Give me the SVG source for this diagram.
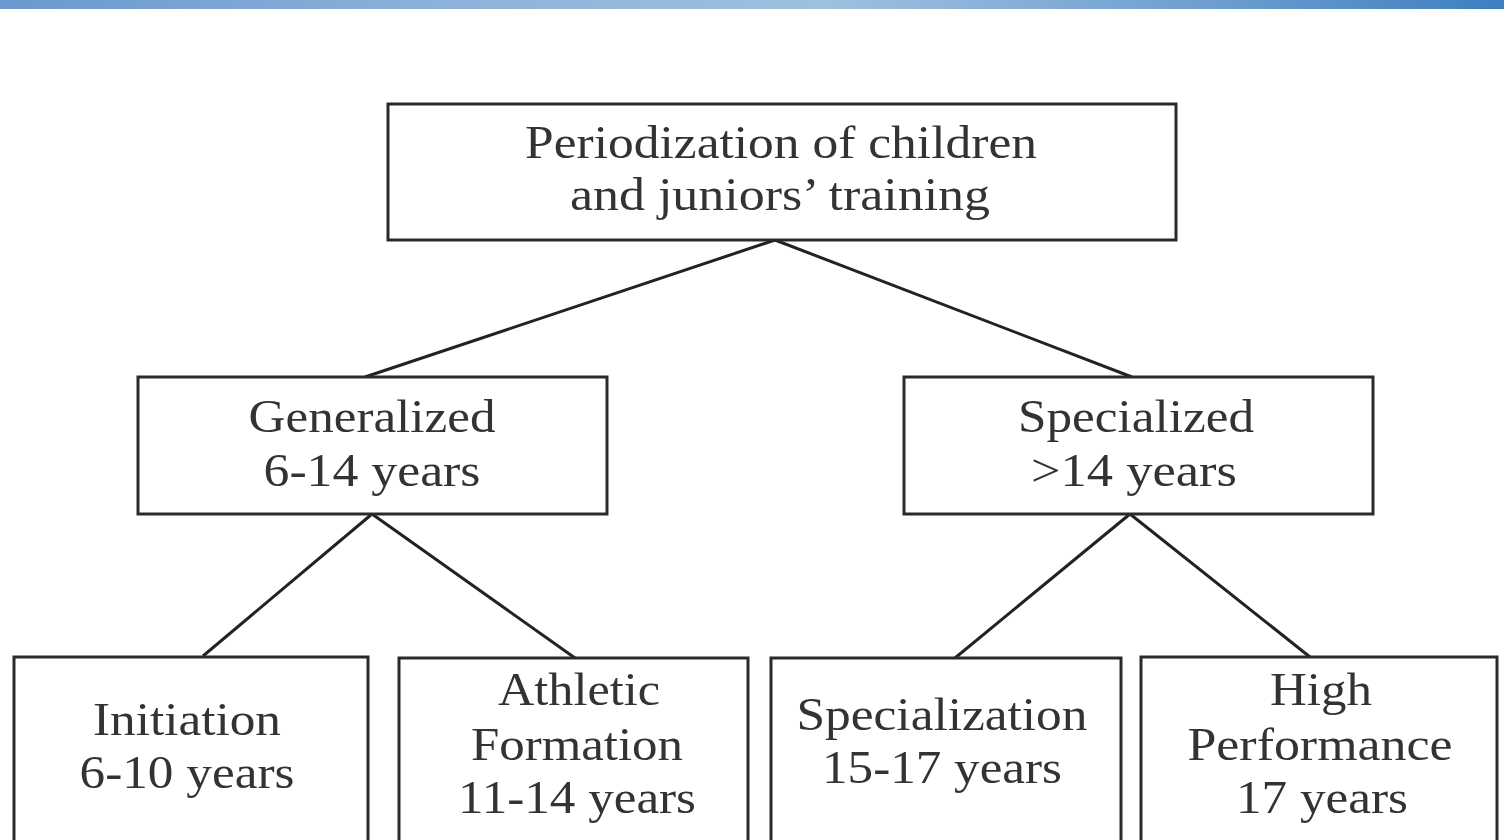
<svg xmlns="http://www.w3.org/2000/svg" width="1504" height="840" viewBox="0 0 1504 840">
<defs>
<linearGradient id="bar" x1="0" y1="0" x2="1" y2="0">
<stop offset="0" stop-color="#6b98cf"/>
<stop offset="0.3" stop-color="#8db3da"/>
<stop offset="0.55" stop-color="#9fc0e0"/>
<stop offset="0.8" stop-color="#6f9fd0"/>
<stop offset="1" stop-color="#3e7fc0"/>
</linearGradient>
</defs>
<style>
.box{fill:#fff;stroke:#2a2a2a;stroke-width:3}
.t{font-family:"Liberation Serif","Times New Roman",serif;font-size:46px;fill:#333;text-anchor:middle}
.c{stroke:#222;stroke-width:3;fill:none}
</style>
<rect x="0" y="0" width="1504" height="840" fill="#fff"/>
<rect x="0" y="0" width="1504" height="9" fill="url(#bar)"/>
<g id="connectors">
<line class="c" x1="775" y1="240" x2="365" y2="377"/>
<line class="c" x1="775" y1="240" x2="1132" y2="377"/>
<line class="c" x1="372" y1="514" x2="203" y2="656"/>
<line class="c" x1="372" y1="514" x2="575" y2="658"/>
<line class="c" x1="1130" y1="514" x2="955" y2="658"/>
<line class="c" x1="1130" y1="514" x2="1310" y2="657"/>
</g>
<g id="root">
<rect class="box" x="388" y="104" width="788" height="136"/>
<text class="t" x="781" y="158" textLength="512" lengthAdjust="spacingAndGlyphs">Periodization of children</text>
<text class="t" x="780" y="210" textLength="420" lengthAdjust="spacingAndGlyphs">and juniors’ training</text>
</g>
<g id="generalized">
<rect class="box" x="138" y="377" width="469" height="137"/>
<text class="t" x="372" y="432" textLength="247" lengthAdjust="spacingAndGlyphs">Generalized</text>
<text class="t" x="372" y="486" textLength="217" lengthAdjust="spacingAndGlyphs">6-14 years</text>
</g>
<g id="specialized">
<rect class="box" x="904" y="377" width="469" height="137"/>
<text class="t" x="1136" y="432" textLength="236" lengthAdjust="spacingAndGlyphs">Specialized</text>
<text class="t" x="1134" y="486" textLength="206" lengthAdjust="spacingAndGlyphs">&gt;14 years</text>
</g>
<g id="initiation">
<rect class="box" x="14" y="657" width="354" height="190"/>
<text class="t" x="187" y="735" textLength="188" lengthAdjust="spacingAndGlyphs">Initiation</text>
<text class="t" x="187" y="788" textLength="215" lengthAdjust="spacingAndGlyphs">6-10 years</text>
</g>
<g id="athletic">
<rect class="box" x="399" y="658" width="349" height="190"/>
<text class="t" x="579" y="705" textLength="162" lengthAdjust="spacingAndGlyphs">Athletic</text>
<text class="t" x="577" y="760" textLength="212" lengthAdjust="spacingAndGlyphs">Formation</text>
<text class="t" x="577" y="813" textLength="238" lengthAdjust="spacingAndGlyphs">11-14 years</text>
</g>
<g id="specialization">
<rect class="box" x="771" y="658" width="350" height="190"/>
<text class="t" x="942" y="730" textLength="291" lengthAdjust="spacingAndGlyphs">Specialization</text>
<text class="t" x="942" y="783" textLength="240" lengthAdjust="spacingAndGlyphs">15-17 years</text>
</g>
<g id="high">
<rect class="box" x="1141" y="657" width="356" height="190"/>
<text class="t" x="1321" y="705" textLength="102" lengthAdjust="spacingAndGlyphs">High</text>
<text class="t" x="1320" y="760" textLength="265" lengthAdjust="spacingAndGlyphs">Performance</text>
<text class="t" x="1322" y="813" textLength="172" lengthAdjust="spacingAndGlyphs">17 years</text>
</g>
</svg>
